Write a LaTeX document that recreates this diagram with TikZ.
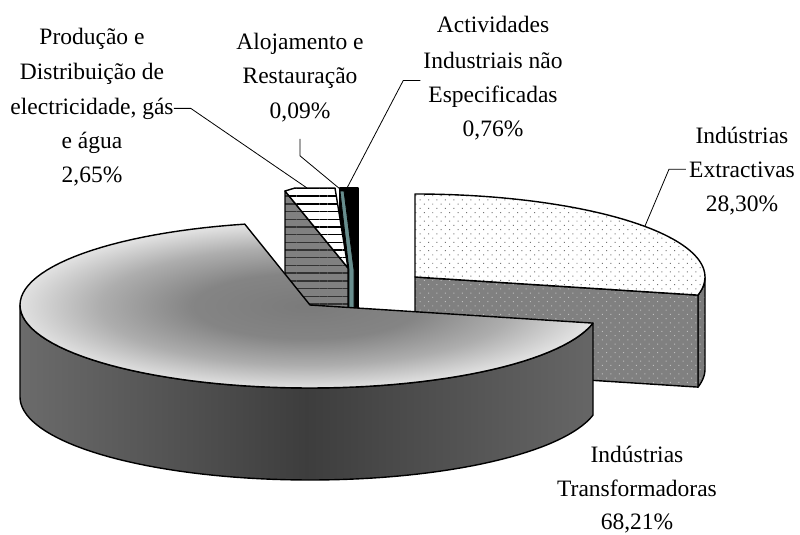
\documentclass[tikz,border=0pt]{standalone}
\usepackage{fontspec}
\setmainfont{Liberation Serif}
\usetikzlibrary{patterns.meta}
\definecolor{tealgray}{RGB}{104,142,142}
\pgfdeclareradialshading{topface}{\pgfpoint{0bp}{0bp}}{%
  color(0bp)=(black!52); color(10bp)=(black!48); color(18bp)=(black!32);
  color(25bp)=(black!12); color(50bp)=(black!12)}
\begin{document}
\begin{tikzpicture}[x=1pt,y=-1pt,
  outline/.style={draw=black, line width=1.4pt, line join=round},
  leader/.style={draw=black, line width=0.8pt},
  lbl/.style={font=\fontsize{23.5}{34.5}\selectfont, inner sep=0pt, anchor=base},
  dotsw/.style={pattern={Dots[distance=6pt,angle=45,radius=0.7pt]}, pattern color=black!55},
  dotsg/.style={pattern={Dots[distance=6pt,angle=45,radius=0.7pt]}, pattern color=black!25},
  stripesw/.style={pattern={Lines[distance=7.7pt,line width=1.4pt]}, pattern color=black},
  stripesg/.style={pattern={Lines[distance=7.7pt,line width=1.4pt]}, pattern color=black!80},
]
\useasboundingbox (0,0) rectangle (800,535);

% ---------- Industrias Extractivas (exploded slice) ----------
\path[outline, preaction={fill=black!52}, dotsg]
  plot[domain=-12.6:0,samples=12] ({415+290*cos(\x)},{277-83*sin(\x)})
  -- plot[domain=0:-12.6,samples=12] ({415+290*cos(\x)},{369-83*sin(\x)}) -- cycle;
\path[outline, preaction={fill=black!50}, dotsg]
  (415,277) -- (698.0,295.1) -- (698.0,387.1) -- (415,369) -- cycle;
\path[outline, preaction={fill=white}, dotsw]
  (415,277) -- plot[domain=90:-12.6,samples=60] ({415+290*cos(\x)},{277-83*sin(\x)}) -- cycle;

% ---------- Actividades (black) and Alojamento (teal) ----------
\path[outline, fill=black] (340,188) rectangle (358,330);
\path[draw=black, line width=0.8pt, fill=tealgray]
  (340,191) -- (344,191) -- (354,270) -- (354,330) -- (349,330) -- (349,270) -- cycle;

% ---------- Producao e Distribuicao ----------
\path[outline, preaction={fill=black!50}, stripesg]
  (285,191) -- (348,268) -- (348,330) -- (285,330) -- cycle;
\path[outline, preaction={fill=white}, stripesw]
  (348,268) -- (285,191) -- (295,188) -- (335,188) -- cycle;

% ---------- Industrias Transformadoras (big slice) ----------
\path[outline, left color=black!58, right color=black!60, middle color=black!76]
  plot[domain=180:347.4,samples=70] ({310+290*cos(\x)},{305-83*sin(\x)})
  -- plot[domain=347.4:180,samples=70] ({310+290*cos(\x)},{397-83*sin(\x)}) -- cycle;
\path[outline, shading=topface]
  (310,305) -- plot[domain=103:347.4,samples=90] ({310+290*cos(\x)},{305-83*sin(\x)}) -- cycle;

% ---------- leader end points ----------
\coordinate (cP) at (307,188);
\coordinate (cA) at (340,189);
\coordinate (cAc) at (347,188);
\coordinate (cE) at (645,226);

% ---------- labels ----------
\node[lbl] (p1) at (92,45) {Produção e};
\node[lbl] (p2) at (92,79.5) {Distribuição de};
\node[lbl] (p3) at (92,114) {electricidade, gás};
\node[lbl] (p4) at (92,148) {e água};
\node[lbl] (p5) at (92,182) {2,65\%};

\node[lbl] (a1) at (300,50) {Alojamento e};
\node[lbl] (a2) at (300,84) {Restauração};
\node[lbl] (a3) at (300,118) {0,09\%};

\node[lbl] (ac1) at (493,33) {Actividades};
\node[lbl] (ac2) at (493,68) {Industriais não};
\node[lbl] (ac3) at (493,102) {Especificadas};
\node[lbl] (ac4) at (493,136) {0,76\%};

\node[lbl] (e1) at (742,143) {Indústrias};
\node[lbl] (e2) at (742,177) {Extractivas};
\node[lbl] (e3) at (742,211) {28,30\%};

\node[lbl] (t1) at (637,462) {Indústrias};
\node[lbl] (t2) at (637,496) {Transformadoras};
\node[lbl] (t3) at (637,529.5) {68,21\%};

% ---------- leaders ----------
\draw[leader] (p3.east) -- ++(17,0) -- (cP);
\draw[leader] (a3.south) ++(0,17) -- ++(0,17) -- (cA);
\draw[leader] (ac2.south west) ++(-3,12) -- ++(-17,0) -- (cAc);
\draw[leader] (e2.west) ++(-3,0) -- ++(-17,0) -- (cE);
\end{tikzpicture}
\end{document}
